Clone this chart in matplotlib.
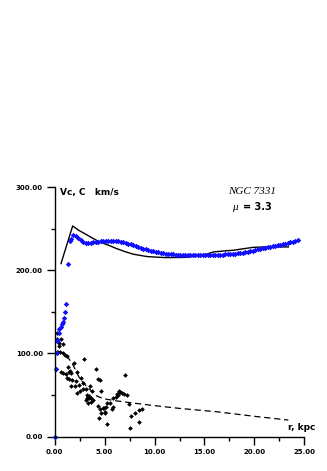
import matplotlib
matplotlib.use("Agg")
import matplotlib.pyplot as plt
from matplotlib.ticker import MultipleLocator, FormatStrFormatter

# blue points: inner rise
blue_r_in = [0.0, 0.1, 0.2, 0.2, 0.33, 0.4, 0.47, 0.6, 0.73, 0.87, 0.93, 1.0, 1.1, 1.37, 1.53]
blue_v_in = [0, 81, 100, 115, 116, 124, 129, 132, 135, 138, 143, 150, 160, 208, 235]

# blue points: outer curve
blue_r = [1.6, 1.85, 2.1, 2.35, 2.6, 2.85, 3.1, 3.35, 3.6, 3.85, 4.1, 4.35, 4.6, 4.85,
          5.1, 5.35, 5.6, 5.85, 6.1, 6.35, 6.6, 6.85, 7.1, 7.35, 7.6, 7.85, 8.1, 8.35,
          8.6, 8.85, 9.1, 9.35, 9.6, 9.85, 10.1, 10.35, 10.6, 10.85, 11.1, 11.35, 11.6,
          11.85, 12.1, 12.35, 12.6, 12.85, 13.1, 13.35, 13.6, 13.85, 14.1, 14.35, 14.6,
          14.85, 15.1, 15.35, 15.6, 15.85, 16.1, 16.35, 16.6, 16.85, 17.1, 17.35, 17.6,
          17.85, 18.1, 18.35, 18.6, 18.85, 19.1, 19.35, 19.6, 19.85, 20.1, 20.35, 20.6,
          20.85, 21.1, 21.35, 21.6, 21.85, 22.1, 22.35, 22.6, 22.85, 23.1, 23.35, 23.6,
          23.85, 24.1, 24.35]
blue_v = [238, 242, 241, 238.5, 236, 234, 233, 232.8, 233, 233.5, 234, 234.5, 235, 235.2,
          235.4, 235.5, 235.5, 235.4, 235.2, 234.8, 234.3, 233.5, 232.8, 232, 231, 230, 229, 228,
          227, 226, 225.2, 224.4, 223.6, 222.9, 222.2, 221.5, 220.9, 220.3, 219.9, 219.5, 219.2,
          219, 218.8, 218.6, 218.5, 218.4, 218.4, 218.3, 218.3, 218.3, 218.3, 218.3, 218.4,
          218.4, 218.4, 218.5, 218.5, 218.6, 218.6, 218.7, 218.8, 218.9, 219, 219.2, 219.4,
          219.7, 220, 220.4, 220.8, 221.3, 221.8, 222.4, 223, 223.6, 224.3, 225, 225.6,
          226.3, 227, 227.6, 228.2, 228.8, 229.4, 230, 230.6, 231.3, 232, 232.8, 233.6,
          234.4, 235.2, 236.2]

# model rotation curve (solid)
model_r = [0.63, 1.8, 2.4, 3.0, 3.8, 4.5, 5.5, 6.2, 7.0, 7.9, 9.2, 10.5, 11.2, 12.5, 13.2,
           14.5, 15.2, 15.9, 17.0, 17.9, 19.0, 19.9, 21.0, 21.9, 23.4]
model_v = [208, 253.2, 248, 244, 238.5, 234, 229.5, 226, 222.5, 219.2, 216.5, 215.5, 215.2,
           215.3, 215.6, 217.5, 219.2, 222, 223.2, 224, 226, 227.5, 228, 228, 228]

# dispersion points (black)
disp_r = [0.27, 0.2, 0.6, 0.47, 0.87, 0.4, 0.27, 0.53, 0.8, 1.2, 1.03, 1.93, 2.93, 1.37, 1.53,
          2.2, 0.67, 0.87, 1.13, 1.4, 1.6, 1.2, 1.4, 1.73, 2.67, 2.13, 1.6, 2.03, 2.4, 2.87,
          2.8, 2.27, 2.53, 3.13, 3.53, 4.13, 4.33, 4.53, 4.67, 3.73, 3.27, 3.47, 3.13, 3.33,
          3.6, 3.27, 3.4, 3.67, 3.8, 4.33, 4.53, 4.47, 4.8, 4.93, 5.13, 5.0, 5.07, 4.67, 5.2,
          5.27, 5.53, 5.73, 5.8, 5.87, 6.27, 6.4, 6.53, 6.13, 6.33, 6.73, 6.93, 7.2, 7.07, 7.47,
          7.6, 7.53, 8.0, 8.4, 8.47, 8.73]
disp_v = [124, 117, 117, 113, 111, 109, 102, 102, 101, 97, 98, 88, 93, 84, 79,
          78, 78, 77, 75, 78, 76, 70, 69, 68, 71, 67, 61, 61, 62, 65,
          57, 52, 55, 57, 61, 81, 69, 68, 55, 55, 50, 47, 44, 40,
          42, 46, 49, 46, 44, 37, 33, 23, 35, 34, 36, 30, 28, 28, 15,
          41, 40, 33, 36, 46, 51, 55, 54, 48, 50, 52, 51, 50, 74, 39,
          25, 10, 28, 32, 18, 33]

# model dispersion (dashed)
mdisp_r = [0.3, 0.9, 1.4, 1.8, 2.5, 3.0, 3.5, 4.2, 4.8, 5.2, 6.2, 7.5, 9.5, 12.5, 16.2, 20.0, 23.4]
mdisp_v = [103, 100, 94, 87, 70, 63, 57, 49, 46, 45, 43, 41, 38, 34, 30, 24.5, 20]

W, H = 327, 471
fig = plt.figure(figsize=(W / 100, H / 100), dpi=100)
ax = fig.add_axes([54.7 / W, 34.3 / H, 249.6 / W, 249.7 / H])

ax.plot(model_r, model_v, color="black", lw=1.0)
ax.plot(mdisp_r, mdisp_v, color="black", lw=0.9, ls=(0, (5, 3)))
ax.plot(disp_r, disp_v, ls="none", marker="D", ms=2.4, color="black", mew=0)
ax.plot(blue_r_in + blue_r, blue_v_in + blue_v, ls="none", marker="D", ms=2.8,
        color="#1010ff", mew=0, clip_on=False)

ax.set_xlim(0, 25)
ax.set_ylim(0, 300)
for s in ("top", "right"):
    ax.spines[s].set_visible(False)
for s in ("left", "bottom"):
    ax.spines[s].set_linewidth(1.0)

ax.xaxis.set_major_locator(MultipleLocator(5))
ax.xaxis.set_minor_locator(MultipleLocator(2.5))
ax.yaxis.set_major_locator(MultipleLocator(100))
ax.yaxis.set_minor_locator(MultipleLocator(50))
ax.xaxis.set_major_formatter(FormatStrFormatter("%.2f"))
ax.yaxis.set_major_formatter(FormatStrFormatter("%.2f"))
ax.tick_params(which="major", length=5.5, width=1.0, direction="out", labelsize=5, pad=3)
ax.tick_params(which="minor", length=3, width=1.0, direction="out")
for lab in ax.get_xticklabels() + ax.get_yticklabels():
    lab.set_fontweight("bold")

fig.text(60 / W, 1 - 192 / H, "Vc, C   km/s", fontsize=6.5, fontweight="bold", va="center")
fig.text(228 / W, 1 - 192 / H, "NGC 7331", fontsize=8, family="Liberation Serif",
         style="italic", va="center")
fig.text(232 / W, 1 - 207 / H, "\u03bc", fontsize=8, family="Liberation Serif",
         style="italic", va="center")
fig.text(243 / W, 1 - 207 / H, "= 3.3", fontsize=7, fontweight="bold", va="center")
fig.text(315 / W, 1 - 428 / H, "r, kpc", fontsize=6.5, fontweight="bold", va="center", ha="right")

fig.savefig("out.png", dpi=100)
